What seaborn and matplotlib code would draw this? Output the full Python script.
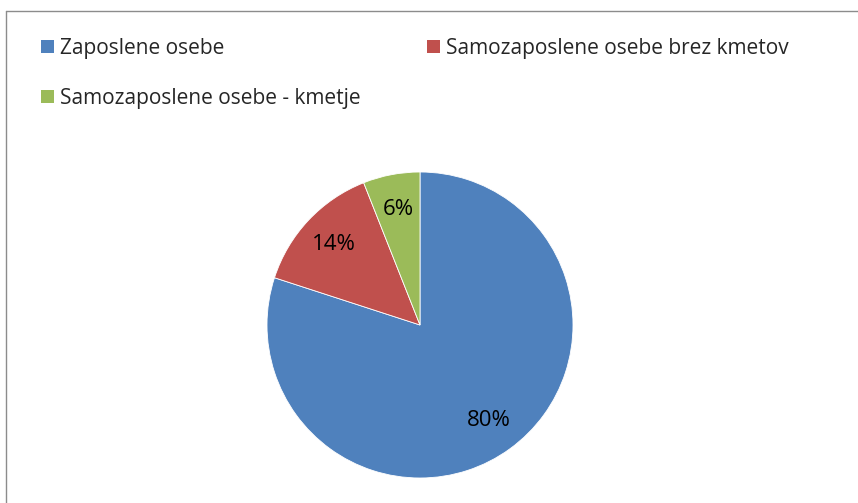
import matplotlib
matplotlib.use("Agg")
import matplotlib.pyplot as plt
from matplotlib.patches import Patch
from matplotlib.lines import Line2D
import seaborn as sns

# =====================================================
# DATA
# =====================================================

categories = [
    "Zaposlene osebe",
    "Samozaposlene osebe brez kmetov",
    "Samozaposlene osebe - kmetje"
]

shares = [80, 14, 6]

colors = ["#4F81BD", "#C0504D", "#9BBB59"]

# =====================================================
# STYLE
# =====================================================

sns.set_theme(style="white")
plt.rcParams["font.family"] = ["Open Sans", "DejaVu Sans"]

W, H = 858, 503
fig = plt.figure(figsize=(W / 100, H / 100), dpi=100)

# pie area: centre (420, 325), radius 153 px
cx, cy, r = 420, 325, 153
ax = fig.add_axes([(cx - r) / W, (H - cy - r) / H, 2 * r / W, 2 * r / H])

wedges, texts, autotexts = ax.pie(
    shares,
    colors=colors,
    startangle=90,
    counterclock=False,
    autopct="%d%%",
    pctdistance=0.77,
    wedgeprops=dict(edgecolor="white", linewidth=0.6),
    textprops=dict(fontsize=16, color="black")
)

ax.set_xlim(-1, 1)
ax.set_ylim(-1, 1)
ax.set_aspect("equal")
ax.axis("off")

# =====================================================
# LEGEND (column-first fill, so reorder)
# =====================================================

order = [0, 2, 1]
handles = [Patch(facecolor=colors[i], edgecolor="none") for i in order]
labels = [categories[i] for i in order]

fig.legend(
    handles,
    labels,
    ncol=2,
    loc="upper left",
    bbox_to_anchor=(41 / W, 1 - 38 / H),
    frameon=False,
    fontsize=15,
    handlelength=0.6,
    handleheight=0.6,
    handletextpad=0.3,
    columnspacing=3.2,
    labelspacing=1.37,
    borderaxespad=0,
    borderpad=0
)

# =====================================================
# FRAME (top and left edges only)
# =====================================================

fig.add_artist(Line2D([6 / W, 1], [1 - 11 / H, 1 - 11 / H],
                      transform=fig.transFigure, color="#8c8c8c", lw=1))
fig.add_artist(Line2D([6 / W, 6 / W], [0, 1 - 11 / H],
                      transform=fig.transFigure, color="#8c8c8c", lw=1))

fig.savefig("out.png", dpi=100)
